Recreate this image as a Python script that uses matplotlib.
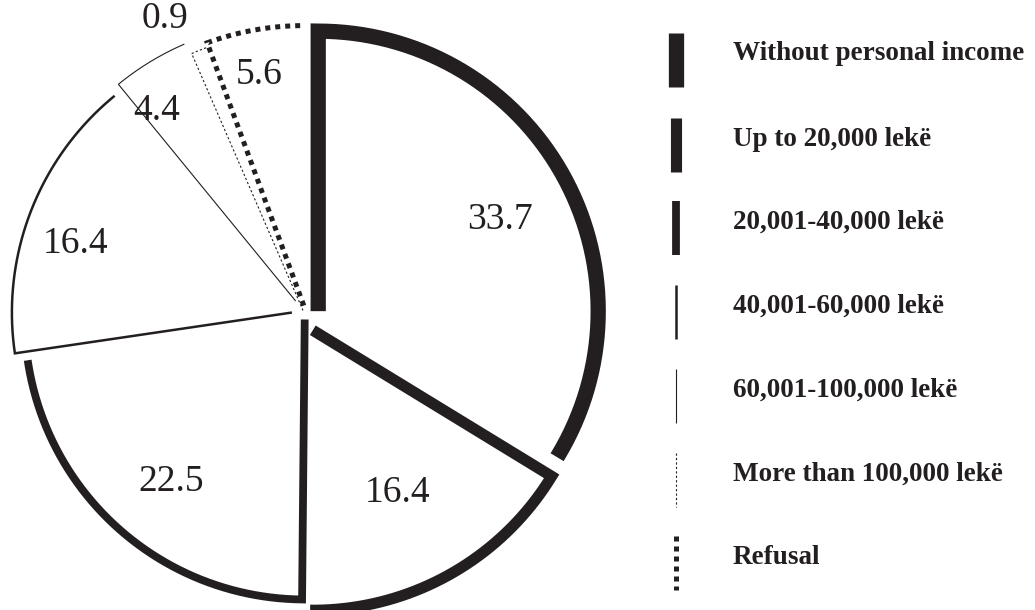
import numpy as np
import matplotlib
matplotlib.use("Agg")
import matplotlib.pyplot as plt

# ---- data ----
categories = ["Without personal income", "Up to 20,000 lekë", "20,001-40,000 lekë",
              "40,001-60,000 lekë", "60,001-100,000 lekë", "More than 100,000 lekë", "Refusal"]
values = [33.7, 16.4, 22.5, 16.4, 4.4, 0.9, 5.6]
value_labels = ["33.7", "16.4", "22.5", "16.4", "4.4", "0.9", "5.6"]

# ---- styles ----
INK = "#231f20"
line_widths = [11.0, 8.0, 5.6, 1.8, 0.8, 0.8, 3.6]
line_styles = ["-", "-", "-", "-", "-", (0, (2, 2)), (0, (1, 1))]
explode = [0.050, 0.050, 0.007, 0.054, 0.071, 0.029, 0.045]
label_dist = [0.776, 0.703, 0.756, 0.865, 0.912, 1.18, 0.885]
label_angle_offset = [-2.5, -1.3, 1.6, 3.4, 4.5, 3.4, 0.8]

W, H = 1035, 610
fig = plt.figure(figsize=(W / 100, H / 100), dpi=100)
fig.patch.set_facecolor("white")

# pie axes: centre at pixel (306, 318), 280 px per unit radius
ax_w = 620
cx, cy, scale = 306, 318, 280
ax = fig.add_axes([0, 0, ax_w / W, 1])
wedges, _ = ax.pie(values, startangle=90, counterclock=False, radius=1,
                   explode=explode,
                   wedgeprops=dict(facecolor="white", edgecolor="none"))
ax.set_aspect("auto")
ax.set_xlim(-cx / scale, (ax_w - cx) / scale)
ax.set_ylim(-(H - cy) / scale, cy / scale)
ax.axis("off")

for w, lw, ls, lab, ld, off in zip(wedges, line_widths, line_styles, value_labels,
                                   label_dist, label_angle_offset):
    c0, c1 = w.center
    r = w.r
    t1, t2 = w.theta1, w.theta2
    ang = np.radians(np.linspace(t2, t1, 200))
    xs = np.concatenate([[c0], c0 + r * np.cos(ang)])
    ys = np.concatenate([[c1], c1 + r * np.sin(ang)])
    ax.plot(xs, ys, color=INK, lw=lw, linestyle=ls,
            solid_capstyle="butt", solid_joinstyle="miter",
            dash_capstyle="butt", dash_joinstyle="miter")
    mid = np.radians(0.5 * (t1 + t2) + off)
    ax.text(ld * r * np.cos(mid), ld * r * np.sin(mid), lab,
            ha="center", va="center", fontsize=27, color=INK,
            family="Liberation Serif")

# legend, drawn in pixel coordinates
lg = fig.add_axes([0, 0, 1, 1])
lg.set_xlim(0, W)
lg.set_ylim(H, 0)
lg.axis("off")
row_centers = [60, 145, 228, 312, 396, 480, 563]
for yc, lw, ls, name in zip(row_centers, line_widths, line_styles, categories):
    lg.plot([676, 676], [yc - 27, yc + 27], color=INK, lw=lw, linestyle=ls,
            solid_capstyle="butt", dash_capstyle="butt")
    lg.text(733, yc - 6, name, ha="left", va="center", fontsize=19.5,
            fontweight="bold", color=INK, family="Liberation Serif")

fig.savefig("out.png", dpi=100, facecolor="white")
